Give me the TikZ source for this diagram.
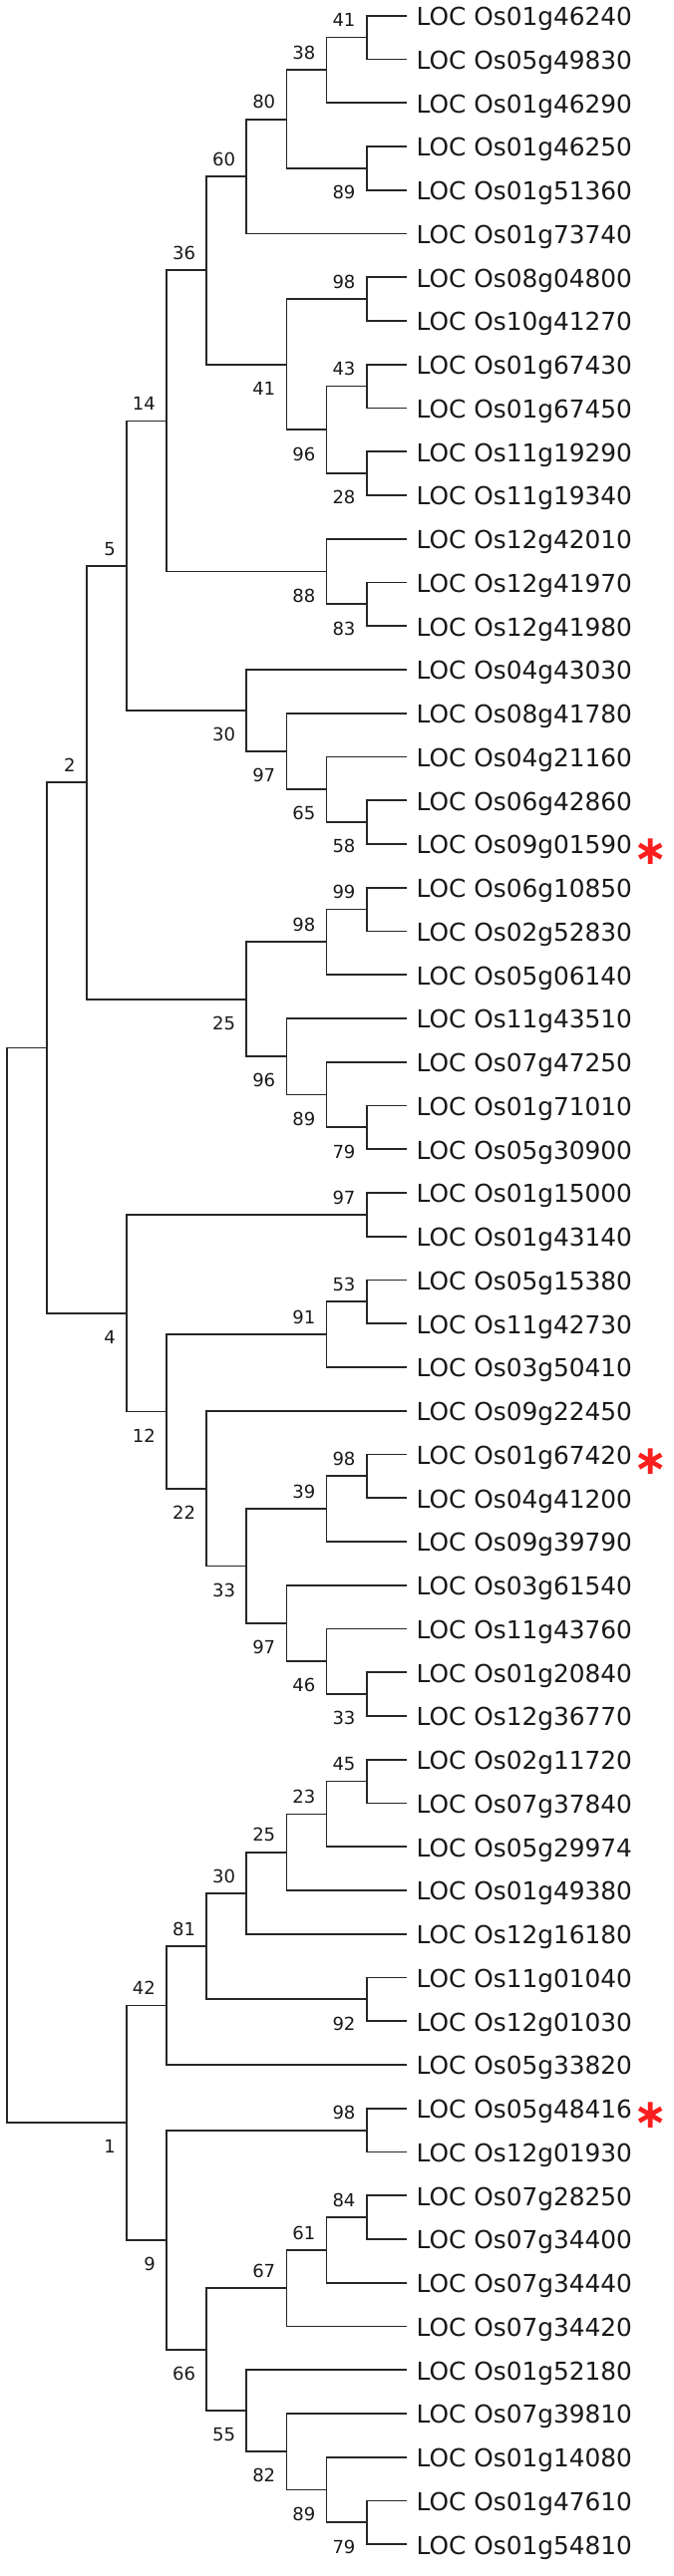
\documentclass[tikz,border=0pt]{standalone}
\usepackage{fontspec}
\newfontfamily\leaffont{DejaVu Sans}
\newfontfamily\bsfont{DejaVu Sans}
\newfontfamily\symfont{DejaVu Sans}
\usetikzlibrary{calc}
\definecolor{starred}{RGB}{250,30,30}
\tikzset{
  br/.style={line width=1.8pt, draw=black!85},
  leaflabel/.style={anchor=base west, inner sep=0pt, text=black!90,
    font=\leaffont\fontsize{24.8pt}{30pt}\selectfont},
  bslabel/.style={anchor=base east, inner sep=0pt, text=black!90,
    font=\bsfont\fontsize{18pt}{20pt}\selectfont},
  starmark/.style={anchor=center, inner sep=0pt, text=starred,
    font=\symfont\bfseries\fontsize{41pt}{44pt}\selectfont}
}
\newcommand\lf[2]{%
  \coordinate (l#1) at (407.7, {15.7+43.75*(#1-1)});
  \node[leaflabel] (t#1) at ($(l#1)+(9.8,10)$) {#2};}
\newcommand\cl[4]{%
  \path let \p1=(#3), \p2=(#4) in coordinate (#1) at ({(6.7+40.1*#2)*1pt}, {0.5*(\y1)+0.5*(\y2)});
  \draw[br] (#3) -| (#1) |- (#4);}
\newcommand\bsa[2]{\node[bslabel] (b#1) at ($(#1)+(-11,-10.7)$) {#2};}
\newcommand\bsb[2]{\node[bslabel] (b#1) at ($(#1)+(-11,30.7)$) {#2};}
\newcommand\st[1]{\node[starmark] (s#1) at ($(l#1)+(245.3,7.3)$) {∗};}
\begin{document}
\begin{tikzpicture}[x=1pt,y=-1pt]
\fill[white] (0,0) rectangle (676,2585);
\useasboundingbox (0,0) rectangle (676,2585);
\lf{1}{LOC Os01g46240}
\lf{2}{LOC Os05g49830}
\lf{3}{LOC Os01g46290}
\lf{4}{LOC Os01g46250}
\lf{5}{LOC Os01g51360}
\lf{6}{LOC Os01g73740}
\lf{7}{LOC Os08g04800}
\lf{8}{LOC Os10g41270}
\lf{9}{LOC Os01g67430}
\lf{10}{LOC Os01g67450}
\lf{11}{LOC Os11g19290}
\lf{12}{LOC Os11g19340}
\lf{13}{LOC Os12g42010}
\lf{14}{LOC Os12g41970}
\lf{15}{LOC Os12g41980}
\lf{16}{LOC Os04g43030}
\lf{17}{LOC Os08g41780}
\lf{18}{LOC Os04g21160}
\lf{19}{LOC Os06g42860}
\lf{20}{LOC Os09g01590}
\lf{21}{LOC Os06g10850}
\lf{22}{LOC Os02g52830}
\lf{23}{LOC Os05g06140}
\lf{24}{LOC Os11g43510}
\lf{25}{LOC Os07g47250}
\lf{26}{LOC Os01g71010}
\lf{27}{LOC Os05g30900}
\lf{28}{LOC Os01g15000}
\lf{29}{LOC Os01g43140}
\lf{30}{LOC Os05g15380}
\lf{31}{LOC Os11g42730}
\lf{32}{LOC Os03g50410}
\lf{33}{LOC Os09g22450}
\lf{34}{LOC Os01g67420}
\lf{35}{LOC Os04g41200}
\lf{36}{LOC Os09g39790}
\lf{37}{LOC Os03g61540}
\lf{38}{LOC Os11g43760}
\lf{39}{LOC Os01g20840}
\lf{40}{LOC Os12g36770}
\lf{41}{LOC Os02g11720}
\lf{42}{LOC Os07g37840}
\lf{43}{LOC Os05g29974}
\lf{44}{LOC Os01g49380}
\lf{45}{LOC Os12g16180}
\lf{46}{LOC Os11g01040}
\lf{47}{LOC Os12g01030}
\lf{48}{LOC Os05g33820}
\lf{49}{LOC Os05g48416}
\lf{50}{LOC Os12g01930}
\lf{51}{LOC Os07g28250}
\lf{52}{LOC Os07g34400}
\lf{53}{LOC Os07g34440}
\lf{54}{LOC Os07g34420}
\lf{55}{LOC Os01g52180}
\lf{56}{LOC Os07g39810}
\lf{57}{LOC Os01g14080}
\lf{58}{LOC Os01g47610}
\lf{59}{LOC Os01g54810}
\st{20}\st{34}\st{49}
% clade A
\cl{a41}{9}{l1}{l2}\bsa{a41}{41}
\cl{a38}{8}{a41}{l3}\bsa{a38}{38}
\cl{a89}{9}{l4}{l5}\bsb{a89}{89}
\cl{a80}{7}{a38}{a89}\bsa{a80}{80}
\cl{a60}{6}{a80}{l6}\bsa{a60}{60}
\cl{a98}{9}{l7}{l8}\bsa{a98}{98}
\cl{a43}{9}{l9}{l10}\bsa{a43}{43}
\cl{a28}{9}{l11}{l12}\bsb{a28}{28}
\cl{a96}{8}{a43}{a28}\bsb{a96}{96}
\cl{a41b}{7}{a98}{a96}\bsb{a41b}{41}
\cl{a36}{5}{a60}{a41b}\bsa{a36}{36}
\cl{a83}{9}{l14}{l15}\bsb{a83}{83}
\cl{a88}{8}{l13}{a83}\bsb{a88}{88}
\cl{a14}{4}{a36}{a88}\bsa{a14}{14}
\cl{a58}{9}{l19}{l20}\bsb{a58}{58}
\cl{a65}{8}{l18}{a58}\bsb{a65}{65}
\cl{a97}{7}{l17}{a65}\bsb{a97}{97}
\cl{a30}{6}{l16}{a97}\bsb{a30}{30}
\cl{a5}{3}{a14}{a30}\bsa{a5}{5}
\cl{a99}{9}{l21}{l22}\bsa{a99}{99}
\cl{a98b}{8}{a99}{l23}\bsa{a98b}{98}
\cl{a79}{9}{l26}{l27}\bsb{a79}{79}
\cl{a89b}{8}{l25}{a79}\bsb{a89b}{89}
\cl{a96b}{7}{l24}{a89b}\bsb{a96b}{96}
\cl{a25}{6}{a98b}{a96b}\bsb{a25}{25}
\cl{a2}{2}{a5}{a25}\bsa{a2}{2}
% clade B
\cl{b97}{9}{l28}{l29}\bsa{b97}{97}
\cl{b53}{9}{l30}{l31}\bsa{b53}{53}
\cl{b91}{8}{b53}{l32}\bsa{b91}{91}
\cl{b98}{9}{l34}{l35}\bsa{b98}{98}
\cl{b39}{8}{b98}{l36}\bsa{b39}{39}
\cl{b33c}{9}{l39}{l40}\bsb{b33c}{33}
\cl{b46}{8}{l38}{b33c}\bsb{b46}{46}
\cl{b97b}{7}{l37}{b46}\bsb{b97b}{97}
\cl{b33}{6}{b39}{b97b}\bsb{b33}{33}
\cl{b22}{5}{l33}{b33}\bsb{b22}{22}
\cl{b12}{4}{b91}{b22}\bsb{b12}{12}
\cl{b4}{3}{b97}{b12}\bsb{b4}{4}
\cl{top}{1}{a2}{b4}
% clade C
\cl{c45}{9}{l41}{l42}\bsa{c45}{45}
\cl{c23}{8}{c45}{l43}\bsa{c23}{23}
\cl{c25}{7}{c23}{l44}\bsa{c25}{25}
\cl{c30}{6}{c25}{l45}\bsa{c30}{30}
\cl{c92}{9}{l46}{l47}\bsb{c92}{92}
\cl{c81}{5}{c30}{c92}\bsa{c81}{81}
\cl{c42}{4}{c81}{l48}\bsa{c42}{42}
\cl{c98}{9}{l49}{l50}\bsa{c98}{98}
\cl{c84}{9}{l51}{l52}\bsa{c84}{84}
\cl{c61}{8}{c84}{l53}\bsa{c61}{61}
\cl{c67}{7}{c61}{l54}\bsa{c67}{67}
\cl{c79}{9}{l58}{l59}\bsb{c79}{79}
\cl{c89}{8}{l57}{c79}\bsb{c89}{89}
\cl{c82}{7}{l56}{c89}\bsb{c82}{82}
\cl{c55}{6}{l55}{c82}\bsb{c55}{55}
\cl{c66}{5}{c67}{c55}\bsb{c66}{66}
\cl{c9}{4}{c98}{c66}\bsb{c9}{9}
\cl{c1}{3}{c42}{c9}\bsb{c1}{1}
\cl{root}{0}{top}{c1}
\end{tikzpicture}
\end{document}
